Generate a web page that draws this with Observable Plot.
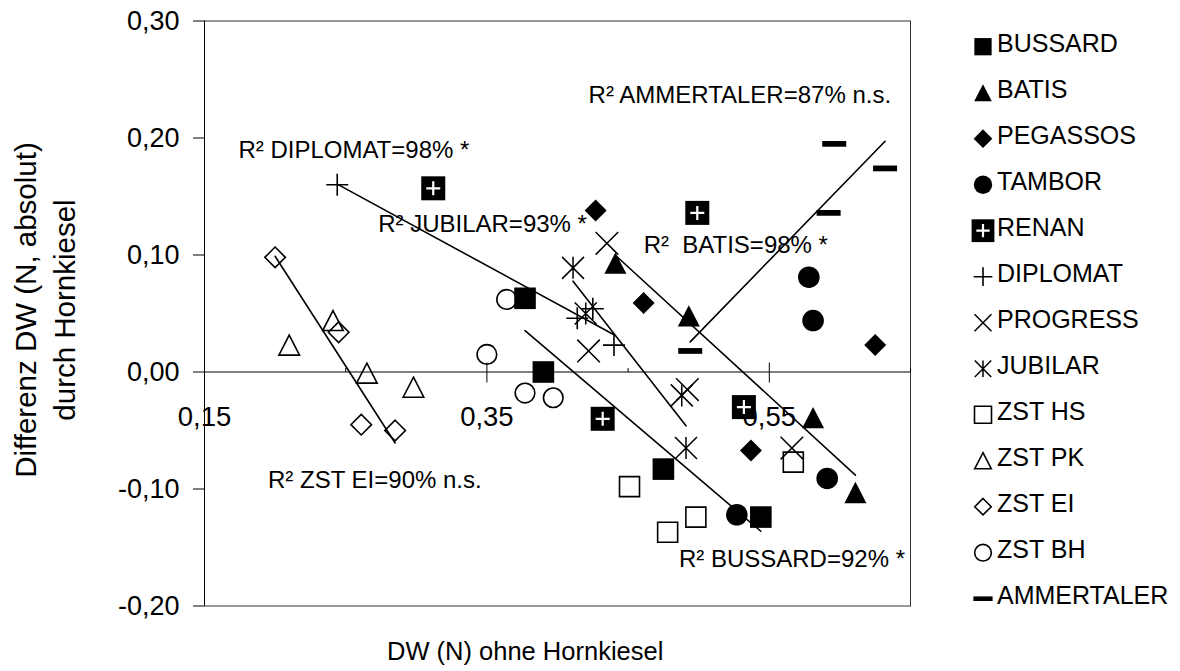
<!DOCTYPE html>
<html><head><meta charset="utf-8">
<script src="https://cdn.jsdelivr.net/npm/d3@7"></script>
<script src="https://cdn.jsdelivr.net/npm/@observablehq/plot@0.6"></script>
<style>
html,body{margin:0;padding:0;background:#fff;}
#chart{width:1180px;height:671px;}
</style></head><body><div id="chart"></div>
<script>
// ---------- data ----------
const seriesNames = ["BUSSARD","BATIS","PEGASSOS","TAMBOR","RENAN","DIPLOMAT","PROGRESS","JUBILAR","ZST HS","ZST PK","ZST EI","ZST BH","AMMERTALER"];
const pointSeries = [
  "BUSSARD","BUSSARD","BUSSARD","BUSSARD",
  "BATIS","BATIS","BATIS","BATIS",
  "PEGASSOS","PEGASSOS","PEGASSOS","PEGASSOS",
  "TAMBOR","TAMBOR","TAMBOR","TAMBOR",
  "RENAN","RENAN","RENAN","RENAN",
  "DIPLOMAT","DIPLOMAT","DIPLOMAT","DIPLOMAT",
  "PROGRESS","PROGRESS","PROGRESS","PROGRESS",
  "JUBILAR","JUBILAR","JUBILAR","JUBILAR",
  "ZST HS","ZST HS","ZST HS","ZST HS",
  "ZST PK","ZST PK","ZST PK","ZST PK",
  "ZST EI","ZST EI","ZST EI","ZST EI",
  "ZST BH","ZST BH","ZST BH","ZST BH",
  "AMMERTALER","AMMERTALER","AMMERTALER","AMMERTALER"
];
const dwOhne = [
  0.377, 0.390, 0.475, 0.544,
  0.441, 0.493, 0.581, 0.611,
  0.427, 0.461, 0.537, 0.625,
  0.578, 0.581, 0.591, 0.527,
  0.312, 0.499, 0.432, 0.532,
  0.244, 0.414, 0.425, 0.440,
  0.435, 0.422, 0.492, 0.566,
  0.411, 0.420, 0.488, 0.491,
  0.451, 0.478, 0.498, 0.567,
  0.210, 0.241, 0.265, 0.298,
  0.200, 0.245, 0.261, 0.285,
  0.364, 0.350, 0.377, 0.397,
  0.494, 0.592, 0.596, 0.632
];
const diffDW = [
  0.063, 0.000, -0.083, -0.124,
  0.093, 0.048, -0.039, -0.103,
  0.138, 0.059, -0.067, 0.023,
  0.081, 0.044, -0.091, -0.122,
  0.157, 0.136, -0.040, -0.030,
  0.160, 0.046, 0.054, 0.023,
  0.110, 0.018, -0.015, -0.065,
  0.089, 0.050, -0.020, -0.065,
  -0.098, -0.137, -0.124, -0.077,
  0.023, 0.044, -0.001, -0.013,
  0.098, 0.034, -0.045, -0.050,
  0.062, 0.015, -0.018, -0.022,
  0.018, 0.136, 0.195, 0.174
];
const trendSeries = ["DIPLOMAT","JUBILAR","BATIS","AMMERTALER","ZST EI","BUSSARD"];
const labelText = ["R² DIPLOMAT=98% *","R² JUBILAR=93% *","R² AMMERTALER=87% n.s.","R²\u00a0 BATIS=98% *","R² ZST EI=90% n.s.","R² BUSSARD=92% *"];
const labelX = [0.174, 0.273, 0.422, 0.461, 0.195, 0.486];
const labelY = [0.183, 0.120, 0.2295, 0.102, -0.0995, -0.167];
const yTicks = [-0.2, -0.1, 0, 0.1, 0.2, 0.3];
const xTicks = [0.15, 0.35, 0.55];
const xMinorTicks = [0.25, 0.45, 0.65];
const xTitle = "DW (N) ohne Hornkiesel";
const yTitle = ["Differenz DW (N, absolut)", "durch Hornkiesel"];

// ---------- symbols ----------
const R = s => Math.sqrt(s / Math.PI);
const sq = {draw(c, s){const h = R(s); c.rect(-h, -h, 2*h, 2*h);}};
const tri = {draw(c, s){const h = R(s); c.moveTo(0, -0.97*h); c.lineTo(h, 0.97*h); c.lineTo(-h, 0.97*h); c.closePath();}};
const dia = {draw(c, s){const h = R(s); c.moveTo(0, -h); c.lineTo(h, 0); c.lineTo(0, h); c.lineTo(-h, 0); c.closePath();}};
const circ = {draw(c, s){const h = R(s); c.moveTo(h, 0); c.arc(0, 0, h, 0, 2*Math.PI);}};
const plus = {draw(c, s){const h = R(s); c.moveTo(-h, 0); c.lineTo(h, 0); c.moveTo(0, -h); c.lineTo(0, h);}};
const times = {draw(c, s){const h = R(s); c.moveTo(-h, -h); c.lineTo(h, h); c.moveTo(h, -h); c.lineTo(-h, h);}};
const aster = {draw(c, s){const h = R(s); c.moveTo(-h, -h); c.lineTo(h, h); c.moveTo(h, -h); c.lineTo(-h, h); c.moveTo(0, -h); c.lineTo(0, h);}};
const dash = {draw(c, s){const h = R(s); c.rect(-h, -0.24*h, 2*h, 0.48*h);}};
const vTick = {draw(c, s){const h = R(s); c.moveTo(0, -0.95*h); c.lineTo(0, 1.05*h);}};
const upTick = {draw(c, s){const h = R(s); c.moveTo(0, -h); c.lineTo(0, 0);}};

const styles = {
  "BUSSARD":   [{symbol: sq, r: 10.8, fill: "black", stroke: "none"}],
  "BATIS":     [{symbol: tri, r: 11, fill: "black", stroke: "none"}],
  "PEGASSOS":  [{symbol: dia, r: 11, fill: "black", stroke: "none"}],
  "TAMBOR":    [{symbol: circ, r: 10.8, fill: "black", stroke: "none"}],
  "RENAN":     [{symbol: sq, r: 12, fill: "black", stroke: "none"}, {symbol: plus, r: 7, fill: "none", stroke: "white", strokeWidth: 2.2}],
  "DIPLOMAT":  [{symbol: plus, r: 11, fill: "none", stroke: "black", strokeWidth: 1.6}],
  "PROGRESS":  [{symbol: times, r: 11.3, fill: "none", stroke: "black", strokeWidth: 1.5}],
  "JUBILAR":   [{symbol: aster, r: 11, fill: "none", stroke: "black", strokeWidth: 1.5}],
  "ZST HS":    [{symbol: sq, r: 10, fill: "none", stroke: "black", strokeWidth: 1.6}],
  "ZST PK":    [{symbol: tri, r: 10.3, fill: "none", stroke: "black", strokeWidth: 1.6}],
  "ZST EI":    [{symbol: dia, r: 10.3, fill: "none", stroke: "black", strokeWidth: 1.6}],
  "ZST BH":    [{symbol: circ, r: 9.8, fill: "none", stroke: "black", strokeWidth: 1.6}],
  "AMMERTALER":[{symbol: dash, r: 12, fill: "black", stroke: "none"}]
};

const points = dwOhne.map((x, i) => ({series: pointSeries[i], x, y: diffDW[i]}));
const labels = labelText.map((t, i) => ({text: t, x: labelX[i], y: labelY[i]}));
const fmt = d => d.toFixed(2).replace(".", ",");

const dotMarks = [];
for (const s of seriesNames) {
  for (const st of styles[s]) {
    dotMarks.push(Plot.dot(points.filter(d => d.series === s), {x: "x", y: "y", ...st}));
  }
}

const font = "'Liberation Sans', Arial, Helvetica, sans-serif";
const svg = Plot.plot({
  width: 1180, height: 671,
  marginLeft: 204, marginRight: 270, marginTop: 20.5, marginBottom: 65.5,
  style: {fontFamily: font, fontSize: "27px", color: "black", background: "white"},
  x: {domain: [0.15, 0.65], axis: null},
  y: {domain: [-0.2, 0.3]},
  marks: [
    Plot.frame({stroke: "#333", strokeWidth: 1}),
    Plot.ruleX([0.15], {stroke: "black", strokeWidth: 1}),
    Plot.axisY(yTicks, {tickSize: 11, tickPadding: 14, tickFormat: fmt, label: null, stroke: "black"}),
    Plot.ruleY([0], {stroke: "black", strokeWidth: 1}),
    Plot.dot(xTicks, {x: d => d, y: d => 0, symbol: vTick, r: 10, stroke: "black", strokeWidth: 1}),
    Plot.dot(xMinorTicks, {x: d => d, y: d => 0, symbol: upTick, r: 4, stroke: "black", strokeWidth: 1}),
    Plot.text(xTicks, {x: d => d, y: d => 0, text: fmt, dy: 45.5, fontSize: 27.5, fill: "black"}),
    ...dotMarks,
    Plot.linearRegressionY(points.filter(d => trendSeries.includes(d.series)), {x: "x", y: "y", z: "series", ci: 0, stroke: "black", strokeWidth: 1.6}),
    Plot.text(labels, {x: "x", y: "y", text: "text", textAnchor: "start", lineAnchor: "bottom", fontSize: 24, fill: "black"})
  ]
});

// ---------- titles and legend ----------
const g = d3.select(svg).append("g").attr("font-family", font).attr("fill", "black").attr("text-anchor", "start");
g.append("text").attr("x", 387).attr("y", 660).attr("text-anchor", "start").attr("font-size", 25.5).text(xTitle);
g.append("text").attr("transform", "translate(36,310) rotate(-90)").attr("text-anchor", "middle").attr("font-size", 29.5).text(yTitle[0]);
g.append("text").attr("transform", "translate(75,310) rotate(-90)").attr("text-anchor", "middle").attr("font-size", 29.5).text(yTitle[1]);

const legendScale = {"BUSSARD": 0.8, "BATIS": 0.8, "PEGASSOS": 0.85, "TAMBOR": 0.85, "RENAN": 0.95, "DIPLOMAT": 0.85, "PROGRESS": 0.75, "JUBILAR": 0.75, "ZST HS": 0.85, "ZST PK": 0.8, "ZST EI": 0.8, "ZST BH": 0.85, "AMMERTALER": 0.8};
seriesNames.forEach((s, i) => {
  const cy = 43.7 + 46 * i;
  const my = cy + 3;
  for (const st of styles[s]) {
    const r = st.r * legendScale[s];
    const p = d3.path();
    st.symbol.draw(p, r * r * Math.PI);
    g.append("path").attr("transform", `translate(983,${my})`).attr("d", p.toString())
      .attr("fill", st.fill).attr("stroke", st.stroke).attr("stroke-width", st.strokeWidth || 0);
  }
  g.append("text").attr("x", 997).attr("y", cy).attr("dy", "0.35em").attr("text-anchor", "start").attr("font-size", 25).text(s);
});

document.getElementById("chart").appendChild(svg);
</script>
</body></html>
